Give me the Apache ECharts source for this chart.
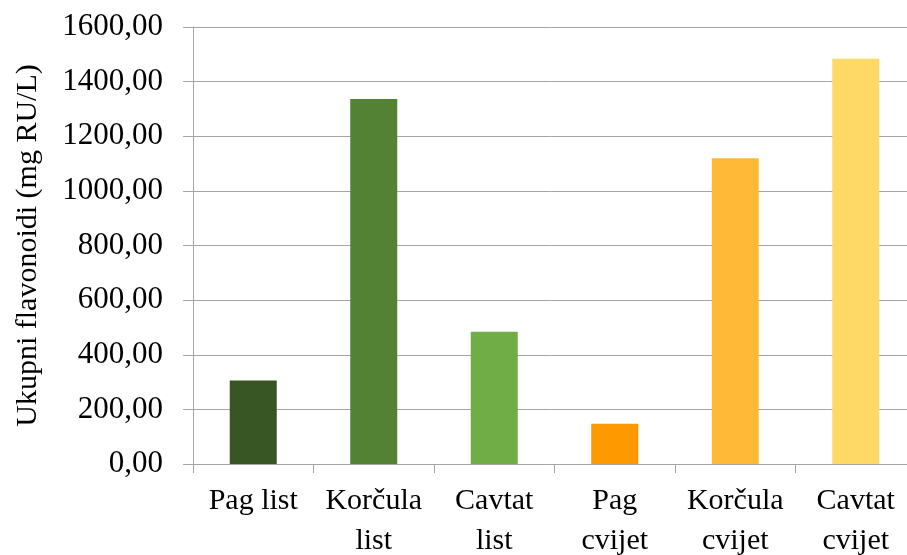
<!DOCTYPE html>
<html>
<head>
<meta charset="utf-8">
<script src="https://cdn.jsdelivr.net/npm/echarts@6/dist/echarts.min.js"></script>
<style>
  html, body { margin: 0; padding: 0; background: #fff; }
  #chart { width: 907px; height: 555px; }
</style>
</head>
<body>
<div id="chart"></div>
<script>
// data
var categories = ['Pag list', 'Korčula\nlist', 'Cavtat\nlist', 'Pag\ncvijet', 'Korčula\ncvijet', 'Cavtat\ncvijet'];
var flavonoids = [306, 1336, 484, 147, 1119, 1484];
var barColors = ['#375623', '#548235', '#70ad47', '#ff9900', '#ffb937', '#ffd966'];

var font = 'Liberation Serif, Times New Roman, serif';
var axisGray = '#a6a6a6';

var myChart = echarts.init(document.getElementById('chart'));

var option = {
	animation: false,
	grid: {
		left: 193, top: 27, width: 723, height: 437,
		containLabel: false, outerBoundsMode: 'none'
	},
	xAxis: {
		type: 'category',
		data: categories,
		axisLine: { lineStyle: { color: axisGray, width: 1 } },
		axisTick: { show: true, length: 9, lineStyle: { color: axisGray } },
		axisLabel: {
			color: '#000', fontFamily: font, fontSize: 30,
			lineHeight: 40, margin: 17, interval: 0
		}
	},
	yAxis: {
		type: 'value',
		min: 0, max: 1600, interval: 200,
		name: 'Ukupni flavonoidi (mg RU/L)',
		nameLocation: 'middle',
		nameGap: 150,
		nameTextStyle: { color: '#000', fontFamily: font, fontSize: 30 },
		axisLine: { show: true, lineStyle: { color: axisGray, width: 1 } },
		axisTick: { show: true, length: 10, lineStyle: { color: axisGray } },
		splitLine: { lineStyle: { color: axisGray, width: 1 } },
		axisLabel: {
			color: '#000', fontFamily: font, fontSize: 31, margin: 30,
			formatter: function(v) { return v.toFixed(2).replace('.', ','); }
		}
	},
	series: [{
		type: 'bar',
		barWidth: 47,
		data: flavonoids.map(function(v, i) {
			return { value: v, itemStyle: { color: barColors[i] } };
		})
	}]
};

myChart.setOption(option);

window.onresize = function() {
	myChart.resize();
};
</script>
</body>
</html>
